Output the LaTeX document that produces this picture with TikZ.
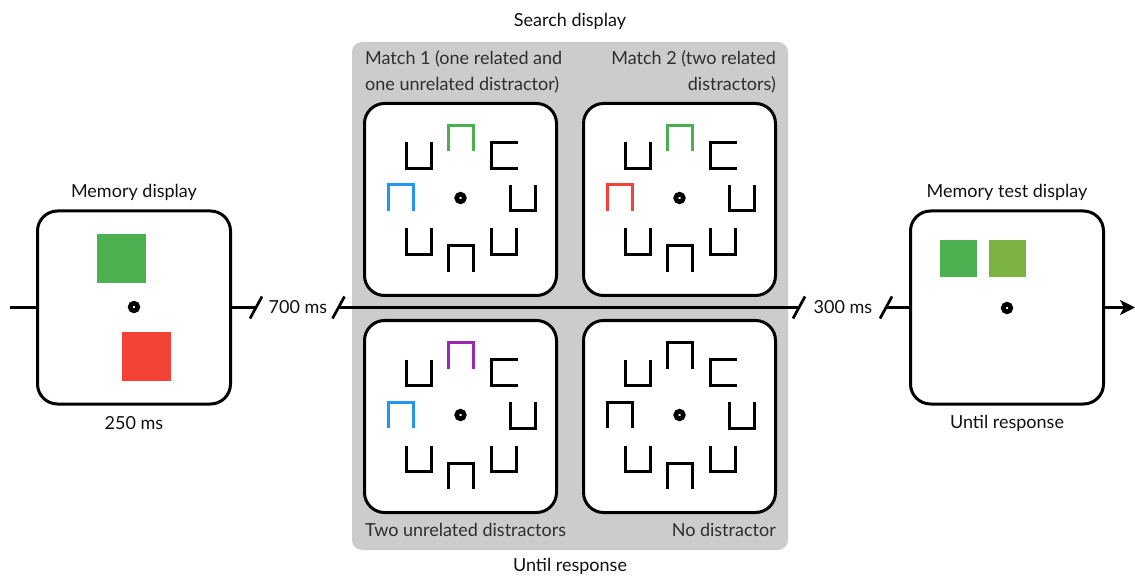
\documentclass[tikz,border=0pt]{standalone}
\usepackage{fontspec}
\setmainfont{Lato}
\usetikzlibrary{arrows.meta}
\definecolor{gbg}{HTML}{CCCCCC}
\definecolor{sgreen}{HTML}{4CAF50}
\definecolor{sred}{HTML}{F44336}
\definecolor{sblue}{HTML}{2196F3}
\definecolor{spurple}{HTML}{9C27B0}
\definecolor{slgreen}{HTML}{7CB342}
\definecolor{txtdark}{HTML}{111111}
\definecolor{txtgray}{HTML}{2E2E2E}
\tikzset{
  screen/.style={draw=black, line width=3pt, rounded corners=20pt, fill=white,
    minimum size=#1, inner sep=0pt},
  fixdot/.style={circle, draw=black, fill=white, line width=4.6pt, minimum size=7.6pt, inner sep=0pt},
  colsq/.style={fill=#1, minimum size=49pt, inner sep=0pt},
  smallsq/.style={fill=#1, minimum size=37pt, inner sep=0pt},
  lbl/.style={inner sep=0pt, text=txtdark},
  plbl/.style={inner sep=0pt, text=txtgray},
  timeline/.style={line width=2.7pt, black},
  brk/.style={line width=2.7pt, black},
  glyph/.style={line width=3pt, line join=miter, line cap=butt},
  ushape/.pic={\draw[glyph] (-12.5,-13) -- (-12.5,13) -- (12.5,13) -- (12.5,-13);},
  nshape/.pic={\draw[glyph] (-12.5,13) -- (-12.5,-13) -- (12.5,-13) -- (12.5,13);},
  cshape/.pic={\draw[glyph] (14,-13) -- (-12.5,-13) -- (-12.5,13) -- (14,13);},
}
\newcommand\searchpanel[5]{%
  \node[screen=192pt] (#1) at (#2,#3) {};
  \begin{scope}[shift={(#2,#3)}]
    \pic[color=black] at (-42,-44) {ushape};
    \pic[color=#4] at (0,-61) {nshape};
    \pic[color=black] at (43,-44) {cshape};
    \pic[color=#5] at (-60,-1.5) {nshape};
    \pic[color=black] at (62,-1.5) {ushape};
    \pic[color=black] at (-42,42) {ushape};
    \pic[color=black] at (0,59.5) {nshape};
    \pic[color=black] at (43,42) {ushape};
    \node[fixdot] (#1dot) at (0,-1.5) {};
  \end{scope}}
\begin{document}
\begin{tikzpicture}[x=1pt, y=-1pt, font=\fontsize{18}{26}\selectfont]
\useasboundingbox[fill=white] (0,0) rectangle (1135,577);

% search display background
\fill[gbg, rounded corners=10pt] (352,42) rectangle (788,550);
\node[lbl] (searchtitle) at (570,21) {Search display};
\node[lbl] (searchtime) at (570,566) {Until response};

% timeline
\coordinate (start) at (10,307.5);
\coordinate (b1) at (256,307.5);
\coordinate (b2) at (338.5,307.5);
\coordinate (b3) at (799,307.5);
\coordinate (b4) at (886,307.5);
\coordinate (finish) at (1135,307.5);

% memory display
\node[screen=193pt] (mem) at (134,307.5) {};
\node[colsq=sgreen] (memg) at (121.5,259) {};
\node[colsq=sred] (memr) at (146,356.5) {};
\node[fixdot] (memdot) at (134,307) {};
\node[lbl] (memtitle) at (134,192) {Memory display};
\node[lbl] (memtime) at (134,423) {250 ms};

% memory test display
\node[screen=193pt] (test) at (1007,307.5) {};
\node[smallsq=sgreen] (testg) at (958.5,259) {};
\node[smallsq=slgreen] (testlg) at (1007.5,259) {};
\node[fixdot] (testdot) at (1007,308) {};
\node[lbl] (testtitle) at (1007,192) {Memory test display};
\node[lbl] (testtime) at (1007,423) {Until response};

% connectors
\draw[timeline] (start) -- (mem.west);
\draw[timeline] (mem.east) -- (b1);
\draw[brk] ([shift={(-6,11)}]b1) -- ([shift={(6,-11)}]b1);
\node[lbl] (d700) at (298,307) {700 ms};
\draw[brk] ([shift={(-6,11)}]b2) -- ([shift={(6,-11)}]b2);
\draw[timeline] (b2) -- (b3);
\draw[brk] ([shift={(-6,11)}]b3) -- ([shift={(6,-11)}]b3);
\node[lbl] (d300) at (843,307) {300 ms};
\draw[brk] ([shift={(-6,11)}]b4) -- ([shift={(6,-11)}]b4);
\draw[timeline] (b4) -- (test.west);
\draw[timeline, -{Stealth[length=15pt, width=15pt, inset=4pt]}] (test.east) -- (finish);

% search panels
\searchpanel{pa}{460.5}{199.5}{sgreen}{sblue}
\searchpanel{pb}{679.5}{199.5}{sgreen}{sred}
\searchpanel{pc}{460.5}{416.5}{spurple}{sblue}
\searchpanel{pd}{679.5}{416.5}{black}{black}

\node[plbl, anchor=west, align=left] (la) at (365,72) {Match 1 (one related and\\one unrelated distractor)};
\node[plbl, anchor=east, align=right] (lb) at (776,72) {Match 2 (two related\\distractors)};
\node[plbl, anchor=west] (lc) at (365,530) {Two unrelated distractors};
\node[plbl, anchor=east] (ld) at (776,530) {No distractor};
\end{tikzpicture}
\end{document}
